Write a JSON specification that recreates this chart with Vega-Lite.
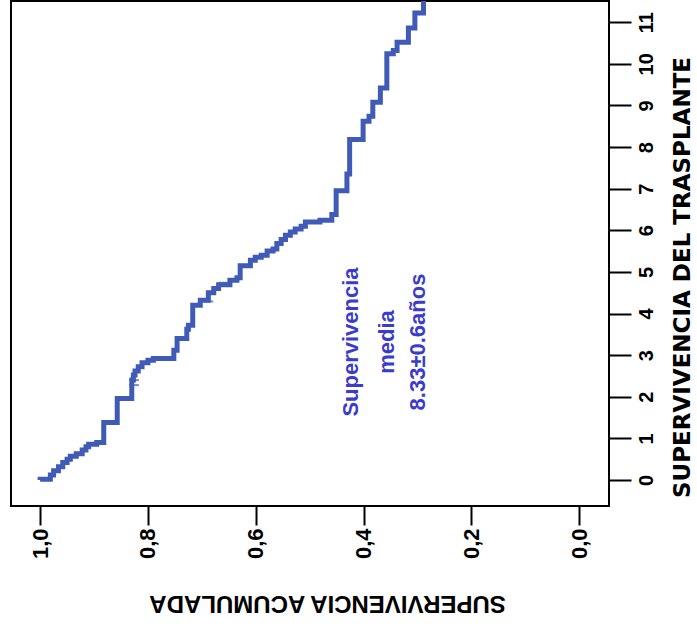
{
  "$schema": "https://vega.github.io/schema/vega-lite/v6.json",
  "width": 598,
  "height": 505,
  "autosize": {"type": "none"},
  "padding": {"left": 11, "top": 1, "right": 88, "bottom": 122},
  "background": "white",
  "config": {
    "view": {"stroke": "black", "strokeWidth": 2},
    "axis": {"grid": false, "domain": false, "tickColor": "black", "tickWidth": 2, "labelColor": "black", "titleColor": "black"},
    "axisX": {"tickSize": 19},
    "axisY": {"tickSize": 22}
  },
  "datasets": {
    "km": [
      {"S": 1.0, "t": 0.0},
      {"S": 0.981, "t": 0.02},
      {"S": 0.975, "t": 0.12},
      {"S": 0.966, "t": 0.22},
      {"S": 0.958, "t": 0.32},
      {"S": 0.95, "t": 0.42},
      {"S": 0.944, "t": 0.5},
      {"S": 0.933, "t": 0.57},
      {"S": 0.922, "t": 0.63},
      {"S": 0.915, "t": 0.72},
      {"S": 0.91, "t": 0.8},
      {"S": 0.895, "t": 0.86},
      {"S": 0.882, "t": 0.9},
      {"S": 0.857, "t": 1.38},
      {"S": 0.83, "t": 1.96},
      {"S": 0.827, "t": 2.4},
      {"S": 0.824, "t": 2.52},
      {"S": 0.818, "t": 2.62},
      {"S": 0.811, "t": 2.72},
      {"S": 0.8, "t": 2.82},
      {"S": 0.79, "t": 2.88},
      {"S": 0.752, "t": 2.92},
      {"S": 0.746, "t": 3.12},
      {"S": 0.728, "t": 3.4},
      {"S": 0.725, "t": 3.62},
      {"S": 0.717, "t": 3.72},
      {"S": 0.703, "t": 4.2},
      {"S": 0.688, "t": 4.32},
      {"S": 0.678, "t": 4.5},
      {"S": 0.669, "t": 4.6},
      {"S": 0.648, "t": 4.69},
      {"S": 0.635, "t": 4.8},
      {"S": 0.629, "t": 4.86},
      {"S": 0.61, "t": 5.15},
      {"S": 0.601, "t": 5.28},
      {"S": 0.59, "t": 5.35},
      {"S": 0.579, "t": 5.4},
      {"S": 0.568, "t": 5.5},
      {"S": 0.561, "t": 5.55},
      {"S": 0.553, "t": 5.68},
      {"S": 0.545, "t": 5.78},
      {"S": 0.536, "t": 5.88},
      {"S": 0.527, "t": 5.96},
      {"S": 0.516, "t": 6.03},
      {"S": 0.508, "t": 6.1},
      {"S": 0.481, "t": 6.2},
      {"S": 0.459, "t": 6.24},
      {"S": 0.451, "t": 6.38},
      {"S": 0.431, "t": 6.95},
      {"S": 0.426, "t": 7.35},
      {"S": 0.401, "t": 8.18},
      {"S": 0.39, "t": 8.62},
      {"S": 0.383, "t": 8.74},
      {"S": 0.369, "t": 9.08},
      {"S": 0.357, "t": 9.42},
      {"S": 0.345, "t": 10.24},
      {"S": 0.338, "t": 10.32},
      {"S": 0.317, "t": 10.52},
      {"S": 0.305, "t": 10.86},
      {"S": 0.289, "t": 11.22},
      {"S": 0.289, "t": 11.8}
    ],
    "censored": [
      {"S": 0.826, "t": 2.28},
      {"S": 0.826, "t": 2.4},
      {"S": 0.688, "t": 4.29},
      {"S": 0.66, "t": 4.74}
    ],
    "note": [
      {"label": "Supervivencia", "S": 0.4234, "t": 3.316},
      {"label": "media", "S": 0.3573, "t": 3.316},
      {"label": "8.33±0.6años", "S": 0.2992, "t": 3.316}
    ]
  },
  "encoding": {
    "x": {
      "field": "S",
      "type": "quantitative",
      "scale": {"domain": [-0.055, 1.054], "reverse": true, "nice": false, "zero": false},
      "axis": {
        "orient": "bottom",
        "values": [0, 0.2, 0.4, 0.6, 0.8, 1.0],
        "labelExpr": "replace(format(datum.value, '.1f'), '.', ',')",
        "labelAngle": 270,
        "labelAlign": "right",
        "labelBaseline": "middle",
        "labelFont": "Liberation Sans",
        "labelFontWeight": "bold",
        "labelFontSize": 22,
        "labelPadding": 3,
        "tickSize": 19,
        "title": "SUPERVIVENCIA ACUMULADA",
        "titleFont": "Liberation Sans",
        "titleFontWeight": "bold",
        "titleFontSize": 24,
        "titleAngle": 180,
        "titleAlign": "center",
        "titleBaseline": "middle",
        "titleX": 316,
        "titleY": 96
      }
    },
    "y": {
      "field": "t",
      "type": "quantitative",
      "scale": {"domain": [-0.625, 11.51], "nice": false, "zero": false},
      "axis": {
        "orient": "right",
        "values": [0, 1, 2, 3, 4, 5, 6, 7, 8, 9, 10, 11],
        "labelAngle": 270,
        "labelAlign": "center",
        "labelBaseline": "middle",
        "labelFont": "Liberation Sans",
        "labelFontWeight": "bold",
        "labelFontSize": 20,
        "labelPadding": 15,
        "tickSize": 22,
        "title": "SUPERVIVENCIA DEL TRASPLANTE",
        "titleFont": "DejaVu Sans",
        "titleFontWeight": "bold",
        "titleFontSize": 23,
        "titleAngle": 270,
        "titleAlign": "center",
        "titleBaseline": "middle",
        "titleX": 73,
        "titleY": 276
      }
    }
  },
  "layer": [
    {
      "data": {"name": "km"},
      "mark": {"type": "line", "interpolate": "step-before", "color": "#3F5BB5", "strokeWidth": 5, "clip": true},
      "encoding": {"order": {"field": "t", "type": "quantitative"}}
    },
    {
      "data": {"name": "censored"},
      "mark": {"type": "tick", "orient": "horizontal", "color": "#3F5BB5", "size": 10, "thickness": 2}
    },
    {
      "data": {"name": "note"},
      "mark": {"type": "text", "angle": 270, "align": "center", "baseline": "middle", "font": "Liberation Sans", "fontWeight": "bold", "fontSize": 22, "color": "#3B3BCC"},
      "encoding": {"text": {"field": "label"}}
    }
  ]
}
